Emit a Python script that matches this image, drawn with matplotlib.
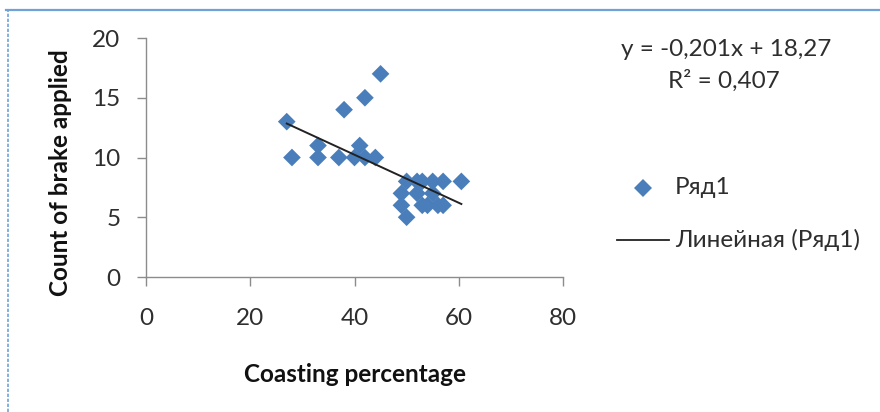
import matplotlib
matplotlib.use("Agg")
import matplotlib.pyplot as plt
from matplotlib.lines import Line2D
import numpy as np

# Coasting percentage vs. number of brake applications
coasting_pct = [45, 42, 38, 27, 28, 33, 33, 37, 41, 40, 42, 44,
                50, 52, 53, 55, 57, 60.5, 49, 52, 55, 49, 53, 54, 56, 57, 50]
brake_count = [17, 15, 14, 13, 10, 11, 10, 10, 11, 10, 10, 10,
               8, 8, 8, 8, 8, 8, 7, 7, 7, 6, 6, 6, 6, 6, 5]

# Linear trendline coefficients as reported on the chart
slope = -0.201
intercept = 18.27
r_squared = 0.407

x_ticks = [0, 20, 40, 60, 80]
y_ticks = [0, 5, 10, 15, 20]

x_label = "Coasting percentage"
y_label = "Count of brake applied"
series_name = "Ряд1"
trend_name = "Линейная (Ряд1)"

FONT = ["Lato", "DejaVu Sans"]
plt.rcParams["font.family"] = FONT
FS = 17.5
TEXT = "#2e2e2e"
BLUE = "#4a7ebb"

W, H = 880, 412
fig = plt.figure(figsize=(W / 100, H / 100), dpi=100)
fig.patch.set_facecolor("white")

def fx(px):
    return px / W

def fy(py):
    return 1 - py / H

# thin blue frame around the chart area
frame_color = "#6fa3d8"
fig.add_artist(Line2D([fx(6), 1.0], [fy(10), fy(10)], color=frame_color, lw=1.6))
fig.add_artist(Line2D([fx(8), fx(8)], [0, fy(10)], color=frame_color, lw=1.2,
                      ls=(0, (2, 1))))

ax = fig.add_axes([fx(146), fy(277), 417 / W, 239 / H])
ax.set_xlim(0, 80)
ax.set_ylim(0, 20)

axis_gray = "#8c8c8c"
for side in ("top", "right"):
    ax.spines[side].set_visible(False)
for side in ("left", "bottom"):
    ax.spines[side].set_color(axis_gray)
    ax.spines[side].set_linewidth(1.0)

ax.set_xticks(x_ticks)
ax.set_yticks(y_ticks)
ax.tick_params(axis="both", direction="out", length=6.5, width=1.0,
               color=axis_gray, labelcolor=TEXT, labelsize=FS)
ax.tick_params(axis="x", pad=16)
ax.tick_params(axis="y", pad=12)

ax.scatter(coasting_pct, brake_count, marker="D", s=9 ** 2,
           color=BLUE, edgecolors="none", zorder=3)

xs = np.array([min(coasting_pct), max(coasting_pct)])
ax.plot(xs, slope * xs + intercept, color="#222222", lw=1.4, zorder=4)

fig.text(fx(355), fy(374), x_label, ha="center", va="center", fontsize=FS,
         fontweight="bold", color="#111111")
fig.text(fx(61), fy(173), y_label, ha="center", va="center", rotation=90,
         fontsize=FS, fontweight="bold", color="#111111")

def fmt(v, nd):
    return f"{v:.{nd}f}".replace(".", ",")

sign = "-" if slope < 0 else ""
fig.text(fx(726), fy(50),
         f"y = {sign}{fmt(abs(slope), 3)}x + {fmt(intercept, 2)}",
         ha="center", va="center", fontsize=FS, color=TEXT)
fig.text(fx(724), fy(81), f"R² = {fmt(r_squared, 3)}",
         ha="center", va="center", fontsize=FS, color=TEXT)

# legend
fig.add_artist(Line2D([fx(643)], [fy(188)], marker="D", markersize=9,
                      color=BLUE, markeredgewidth=0, ls="none"))
fig.text(fx(675), fy(188), series_name, ha="left", va="center",
         fontsize=FS, color=TEXT)
fig.add_artist(Line2D([fx(617), fx(669)], [fy(240), fy(240)],
                      color="#222222", lw=1.3))
fig.text(fx(675), fy(240), trend_name, ha="left", va="center",
         fontsize=FS, color=TEXT)

fig.savefig("out.png", dpi=100, facecolor="white")
